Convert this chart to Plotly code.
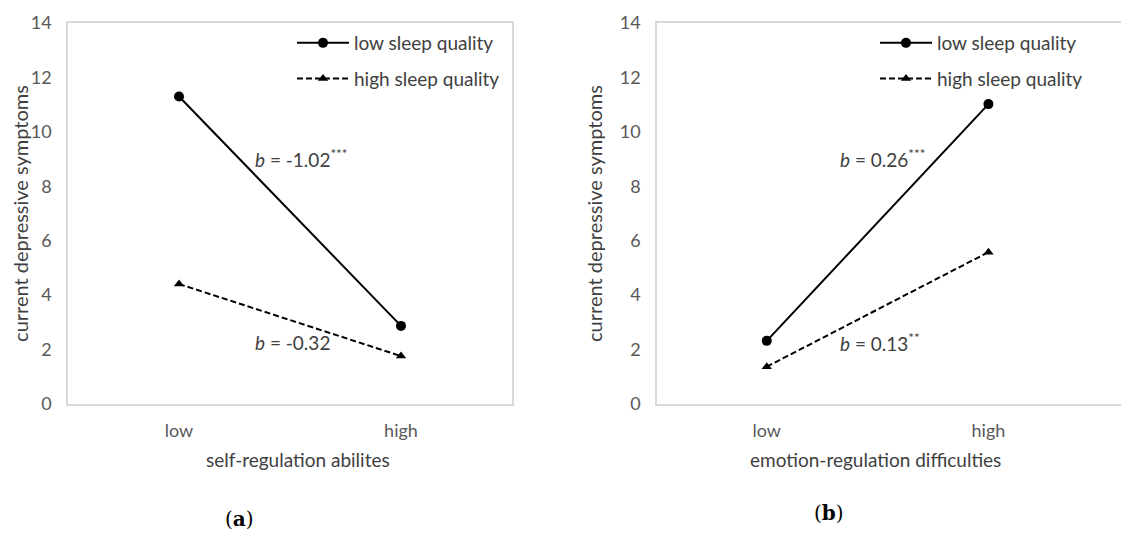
import plotly.graph_objects as go

W, H = 1129, 533
OFF = 8  # page body margin offset

categories = ["low", "high"]
series_names = ["low sleep quality", "high sleep quality"]

# panel (a): self-regulation abilities
a_low_sleep = [11.3, 2.87]
a_high_sleep = [4.41, 1.76]
# panel (b): emotion-regulation difficulties
b_low_sleep = [2.32, 11.02]
b_high_sleep = [1.37, 5.58]

y_ticks = [0, 2, 4, 6, 8, 10, 12, 14]
x_titles = ["self-regulation abilites", "emotion-regulation difficulties"]
y_title = "current depressive symptoms"
slope_labels_a = ["<i>b</i> = -1.02<sup>***</sup>", "<i>b</i> = -0.32"]
slope_labels_b = ["<i>b</i> = 0.26<sup>***</sup>", "<i>b</i> = 0.13<sup>**</sup>"]
panel_labels = ["(<b>a</b>)", "(<b>b</b>)"]

FONT = "Lato, 'Open Sans', sans-serif"
TXT = "#404040"
TICK = "#595959"
BORDER = "#d9d9d9"


def px(x):
    return (x - OFF) / W


def py(y):
    return (H - (y - OFF)) / H


fig = go.Figure()

styles = [
    dict(line=dict(color="black", width=2), marker=dict(symbol="circle", size=10, color="black")),
    dict(line=dict(color="black", width=2, dash="6px,3px"), marker=dict(symbol="triangle-up", size=9, color="black")),
]

for i, (name, vals) in enumerate(zip(series_names, [a_low_sleep, a_high_sleep])):
    fig.add_trace(go.Scatter(x=categories, y=vals, name=name, mode="lines+markers",
                             xaxis="x", yaxis="y", legend="legend", legendgroup=f"a{i}",
                             **styles[i]))
for i, (name, vals) in enumerate(zip(series_names, [b_low_sleep, b_high_sleep])):
    fig.add_trace(go.Scatter(x=categories, y=vals, name=name, mode="lines+markers",
                             xaxis="x2", yaxis="y2", legend="legend2", legendgroup=f"b{i}",
                             **styles[i]))

ydom = [py(404), py(23)]
common_x = dict(type="category", showgrid=False, zeroline=False, ticks="", automargin=False,
                showline=True, linecolor=BORDER, linewidth=1.5, mirror=True,
                tickfont=dict(family=FONT, size=18, color=TICK), ticklabelstandoff=10)
common_y = dict(range=[0, 14], tickvals=y_ticks, showgrid=False, zeroline=False, ticks="",
                automargin=False,
                showline=True, linecolor=BORDER, linewidth=1.5,
                tickfont=dict(family=FONT, size=18, color=TICK), ticklabelstandoff=11,
                title=dict(text=y_title, font=dict(family=FONT, size=20, color=TXT), standoff=12))

fig.update_layout(
    width=W, height=H,
    margin=dict(l=0, r=0, t=0, b=0, autoexpand=False),
    paper_bgcolor="white", plot_bgcolor="white",
    xaxis=dict(domain=[px(68), px(512)], range=[-0.5, 1.5], anchor="y", **common_x),
    yaxis=dict(domain=ydom, anchor="x", mirror=True, **common_y),
    xaxis2=dict(domain=[px(657), 1.0], range=[-0.495, 1.67], anchor="y2", **common_x),
    yaxis2=dict(domain=ydom, anchor="x2", mirror=False, **common_y),
    legend=dict(x=px(292), y=py(24), xanchor="left", yanchor="top",
                font=dict(family=FONT, size=19, color=TXT), bgcolor="rgba(0,0,0,0)",
                itemwidth=52, tracegroupgap=8, traceorder="grouped"),
    legend2=dict(x=px(875), y=py(24), xanchor="left", yanchor="top",
                 font=dict(family=FONT, size=19, color=TXT), bgcolor="rgba(0,0,0,0)",
                 itemwidth=52, tracegroupgap=8, traceorder="grouped"),
    showlegend=True,
)

ann_font = dict(family=FONT, size=19, color=TXT)
annotations = [
    dict(text=slope_labels_a[0], x=px(253), y=py(158)),
    dict(text=slope_labels_a[1], x=px(253), y=py(342)),
    dict(text=slope_labels_b[0], x=px(838), y=py(158)),
    dict(text=slope_labels_b[1], x=px(838), y=py(342)),
]
for a in annotations:
    fig.add_annotation(xref="paper", yref="paper", xanchor="left", yanchor="middle",
                       showarrow=False, font=ann_font, **a)

fig.add_annotation(text=x_titles[0], xref="paper", yref="paper", x=px(298), y=py(460),
                   xanchor="center", yanchor="middle", showarrow=False,
                   font=dict(family=FONT, size=19, color=TXT))
fig.add_annotation(text=x_titles[1], xref="paper", yref="paper", x=px(875), y=py(460),
                   xanchor="center", yanchor="middle", showarrow=False,
                   font=dict(family=FONT, size=19, color=TXT))

fig.add_annotation(text=panel_labels[0], xref="paper", yref="paper", x=px(240), y=py(519),
                   xanchor="center", yanchor="middle", showarrow=False,
                   font=dict(family="'DejaVu Serif', serif", size=20, color="black"))
fig.add_annotation(text=panel_labels[1], xref="paper", yref="paper", x=px(829), y=py(513),
                   xanchor="center", yanchor="middle", showarrow=False,
                   font=dict(family="'DejaVu Serif', serif", size=20, color="black"))

fig.write_html("out.html")
